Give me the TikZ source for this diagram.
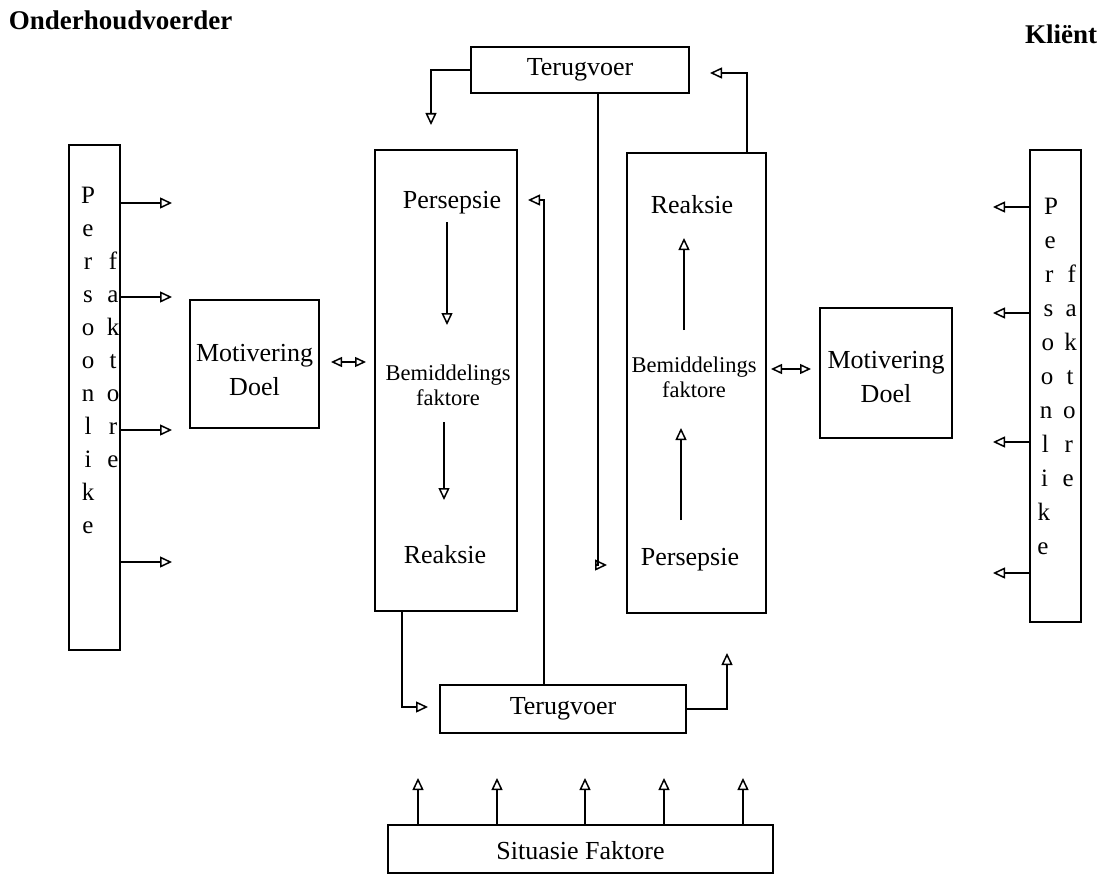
\documentclass[tikz,border=0pt]{standalone}
\usepackage{fontspec}
\setmainfont{Liberation Serif}
\usetikzlibrary{arrows.meta}
\begin{document}
\begin{tikzpicture}[x=1pt,y=-1pt,line width=1.6pt,
  box/.style={draw,line width=1.6pt,inner sep=0pt},
  tip/.style={-{Triangle[open,length=12pt,width=11pt,line width=1.5pt]}},
  dtip/.style={{Triangle[open,length=11pt,width=10pt,line width=1.5pt]}-{Triangle[open,length=11pt,width=10pt,line width=1.5pt]}},
  big/.style={font=\fontsize{26}{34}\selectfont,align=center,inner sep=0pt},
  mid/.style={font=\fontsize{22.5}{25}\selectfont,align=center,inner sep=0pt},
  letter/.style={font=\fontsize{25}{25}\selectfont,anchor=base,inner sep=0pt},
  title/.style={font=\fontsize{27}{28}\selectfont\bfseries,inner sep=0pt}]
\useasboundingbox (0,0) rectangle (1104,875);

% titles
\node[title,anchor=west] (ond) at (8,20) {Onderhoudvoerder};
\node[title,anchor=east] (kli) at (1098,34) {Kliënt};

% boxes
\node[box,minimum width=218pt,minimum height=46pt] (tt) at (580,70) {};
\node[big] (ttl) at (580,70) {Terugvoer};
\node[box,minimum width=142pt,minimum height=461pt] (lb) at (446,380.5) {};
\node[box,minimum width=139pt,minimum height=460pt] (rb) at (696.5,383) {};
\node[box,minimum width=246pt,minimum height=48pt] (bt) at (563,709) {};
\node[big] (btl) at (563,709) {Terugvoer};
\node[box,minimum width=385pt,minimum height=48pt] (sf) at (580.5,849) {};
\node[big] (sfl) at (580.5,851) {Situasie Faktore};
\node[box,minimum width=129pt,minimum height=128pt] (lm) at (254.5,364) {};
\node[big] (lml) at (254.5,370) {Motivering\\Doel};
\node[box,minimum width=132pt,minimum height=130pt] (rm) at (886,373) {};
\node[big] (rml) at (886,377) {Motivering\\Doel};
\node[box,minimum width=51pt,minimum height=505pt] (lpf) at (94.5,397.5) {};
\node[box,minimum width=51pt,minimum height=472pt] (rpf) at (1055.5,386) {};

% contents of the two process columns
\node[big] (lp) at (452,203) {Persepsie};
\node[mid] (lbm) at (448,385) {Bemiddelings\\faktore};
\node[big] (lr) at (445,555) {Reaksie};
\node[big] (rr) at (692,205) {Reaksie};
\node[mid] (rbm) at (694,377) {Bemiddelings\\faktore};
\node[big] (rp) at (690,560) {Persepsie};

% vertical letters of the personal factors
\foreach \c [count=\i from 0] in {P,e,r,s,o,o,n,l,i,k,e}
  \node[letter] (lpl\i) at (88,203+33*\i) {\c};
\foreach \c [count=\i from 2] in {f,a,k,t,o,r,e}
  \node[letter] (lpr\i) at (113,203+33*\i) {\c};
\foreach \c [count=\i from 0] in {P,e,r,s,o,o,n,l,i,k,e}
  \node[letter] (rpl\i) at (1051-0.8*\i,214+34*\i) {\c};
\foreach \c [count=\i from 2] in {f,a,k,t,o,r,e}
  \node[letter] (rpr\i) at (1073-0.6*\i,214+34*\i) {\c};

% arrows inside the columns
\coordinate (la1s) at (447,222); \coordinate (la1e) at (447,325);
\coordinate (la2s) at (444,422); \coordinate (la2e) at (444,500);
\draw[tip] (la1s) -- (la1e);
\draw[tip] (la2s) -- (la2e);
\coordinate (ra1s) at (684,330); \coordinate (ra1e) at (684,238);
\coordinate (ra2s) at (681,520); \coordinate (ra2e) at (681,428);
\draw[tip] (ra1s) -- (ra1e);
\draw[tip] (ra2s) -- (ra2e);

% feedback loops
\coordinate (tA) at (431,125);
\coordinate (tB) at (710,73);
\coordinate (tC) at (607,565);
\coordinate (tD) at (428,707);
\coordinate (tE) at (528,200);
\coordinate (tF) at (727,653);
\draw[tip] (tt.west) -| (tA);
\draw[tip] ([xshift=50.5pt]rb.north) |- (tB);
\draw[tip] ([xshift=18pt]tt.south) |- (tC);
\draw[tip] ([xshift=-44pt]lb.south) |- (tD);
\draw[tip] ([xshift=-19pt]bt.north) |- (tE);
\draw[tip] (bt.east) -| (tF);

% situational factors
\foreach \x [count=\i] in {418,497,585,664,743}{
  \coordinate (s\i) at (\x,778);
  \draw[tip] (sf.north -| s\i) -- (s\i);
}

% personal factors feeding out
\foreach \y [count=\i] in {203,297,430,562}{
  \coordinate (la\i) at (172,\y);
  \draw[tip] (lpf.east |- la\i) -- (la\i);
}
\foreach \y [count=\i] in {207,313,442,573}{
  \coordinate (ra\i) at (993,\y);
  \draw[tip] (rpf.west |- ra\i) -- (ra\i);
}

% two-way links between motivation and mediation
\coordinate (d1a) at (331,362); \coordinate (d1b) at (366,362);
\coordinate (d2a) at (771,369); \coordinate (d2b) at (811,369);
\draw[dtip] (d1a) -- (d1b);
\draw[dtip] (d2a) -- (d2b);
\end{tikzpicture}
\end{document}
